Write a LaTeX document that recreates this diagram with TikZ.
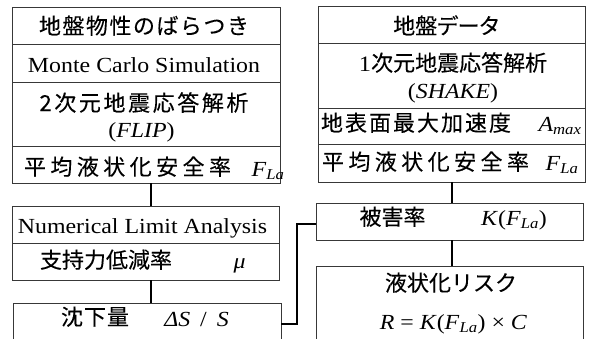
\documentclass[tikz,border=0pt]{standalone}
\usepackage{fontspec}
\setmainfont{Liberation Serif}[FakeStretch=1.11]
\newfontfamily\jp{Noto Sans CJK JP}[FakeBold=0.15]
\newfontfamily\jpp{Noto Sans CJK JP}[FakeBold=0.15,RawFeature=+palt]
\def\sprx#1{#1\futurelet\sprnext\spry}
\def\spry{\ifx\sprnext\relax\expandafter\sprend\else\expandafter\sprmid\fi}
\def\sprmid{\hfil\sprx}
\def\sprend\relax{}
\newcommand\spreadtxt[2]{\makebox[#1][s]{\sprx#2\relax}}
\newcommand\flt{\textit{F}\textsubscript{\textit{La}}}
\tikzset{
  box/.style={draw=black!78, line width=0.9pt, inner sep=0pt, outer sep=0pt},
  lat/.style={font=\fontsize{21.5}{25}\selectfont, inner sep=0pt, anchor=base},
  jpt/.style={font=\fontsize{22}{26}\selectfont\jp, inner sep=0pt, anchor=base},
  conn/.style={line width=1.6pt, black},
  thickconn/.style={line width=2.7pt, black},
}
\newcommand\bx[5]{\node[box, anchor=north west, minimum width={(#4-#2)*1pt}, minimum height={(#5-#3)*1pt}] (#1) at (#2,#3) {};}
\begin{document}
\begin{tikzpicture}[x=1pt,y=-1pt]
\useasboundingbox (0,0) rectangle (591,338);
\clip (0,0) rectangle (591,338);
% left column
\bx{A}{12}{7}{280}{44}
\bx{B}{12}{44}{280}{82}
\bx{C}{12}{82}{280}{146}
\bx{D}{12}{146}{280}{183}
\bx{E}{12}{206}{279}{243}
\bx{F}{12}{243}{279}{280}
\bx{G}{13}{303}{281}{345}
% right column
\bx{R1}{318}{6}{585}{43}
\bx{R2}{318}{43}{585}{108}
\bx{R3}{318}{108}{585}{144}
\bx{R4}{318}{144}{585}{182}
\bx{H}{316}{203}{583}{240}
\bx{I}{316}{266}{583}{345}
% texts
\node[jpt] (tA) at (144,34) {\spreadtxt{210pt}{地盤物性のばらつき}};
\node[lat] (tB) at (144,72) {Monte Carlo Simulation};
\node[jpt] (tC1) at (144,111) {\spreadtxt{209pt}{2次元地震応答解析}};
\node[lat] (tC2) at (141.5,137) {(\textit{FLIP})};
\node[jpt] (tD1) at (127.5,175) {\spreadtxt{207pt}{平均液状化安全率}};
\node[lat] (tD2) at (268,176) {\flt};
\node[lat] (tE) at (142.5,233) {Numerical Limit Analysis};
\node[jpt] (tF1) at (106,268) {支持力低減率};
\node[lat] (tF2) at (239.5,268) {\textit{μ}};
\node[jpt] (tG1) at (95,325) {\spreadtxt{68pt}{沈下量}};
\node[lat] (tG2) at (196.5,326) {\textit{ΔS}\hspace{10pt}/\hspace{10pt}\textit{S}};
\node[jpt] (tR1) at (446,34) {\jpp 地盤データ};
\node[jpt] (tR2a) at (453,71) {{\rmfamily 1}次元地震応答解析};
\node[lat] (tR2b) at (453,98) {(\textit{SHAKE})};
\node[jpt] (tR3a) at (416,131) {\spreadtxt{190pt}{地表面最大加速度}};
\node[lat] (tR3b) at (560,131) {\textit{A}\textsubscript{\textit{max}}};
\node[jpt] (tR4a) at (425.5,170) {\spreadtxt{207pt}{平均液状化安全率}};
\node[lat] (tR4b) at (562,170) {\flt};
\node[jpt] (tH1) at (392.5,225) {被害率};
\node[lat] (tH2) at (514,225) {\textit{K}(\flt)};
\node[jpt] (tI1) at (451,291) {液状化リスク};
\node[lat] (tI2) at (453.5,329) {\textit{R} = \textit{K}(\flt) × \textit{C}};
% connectors
\coordinate (lx) at (151,0);
\coordinate (rx) at (452,0);
\coordinate (jx) at (297,0);
\coordinate (hy) at (0,224);
\draw[conn] (D.south -| lx) -- (E.north -| lx);
\draw[conn] (F.south -| lx) -- (G.north -| lx);
\draw[conn] (R4.south -| rx) -- (H.north -| rx);
\draw[conn] (H.south -| rx) -- (I.north -| rx);
\draw[thickconn] (G.east) -- (G.east -| jx) -- (jx |- hy) -- (H.west |- hy);
\end{tikzpicture}
\end{document}
